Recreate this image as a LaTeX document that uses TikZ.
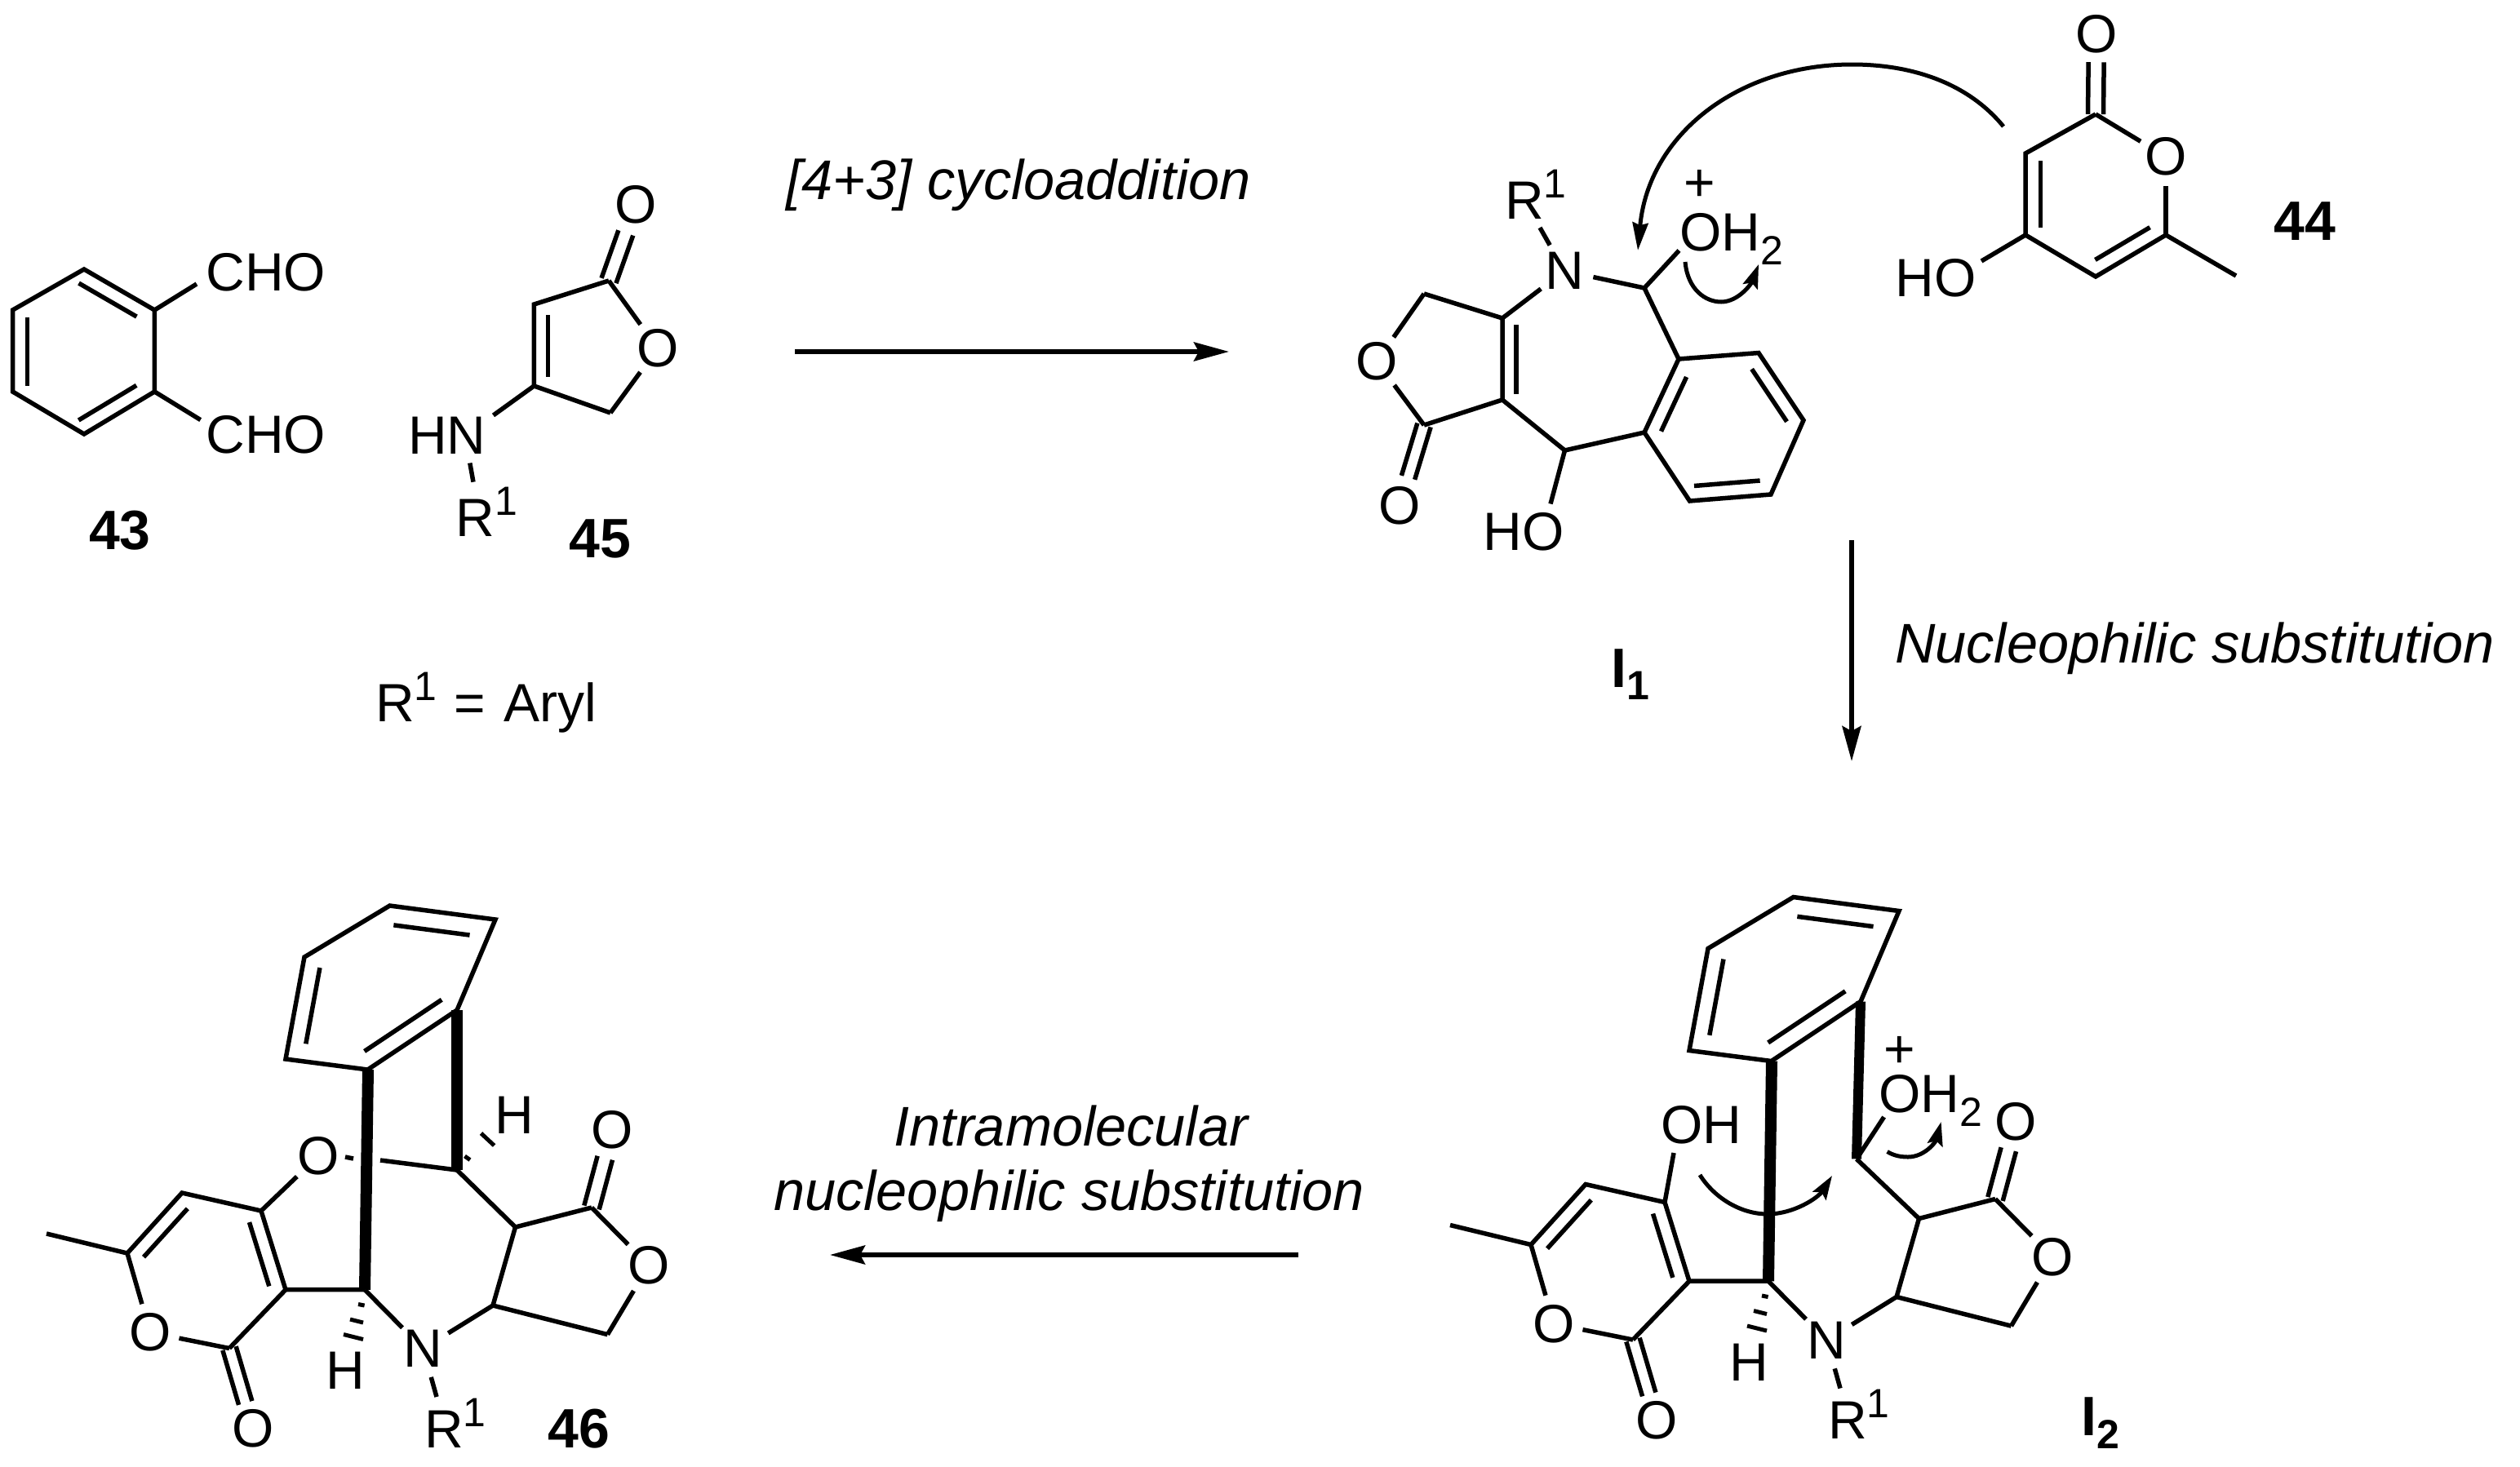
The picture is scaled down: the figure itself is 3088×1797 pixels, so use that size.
\documentclass[tikz,border=0pt]{standalone}
\usepackage{fontspec}
\setmainfont{Liberation Sans}
\usetikzlibrary{calc,arrows.meta}
\newcommand{\supone}{\raisebox{26pt}{\fontsize{50}{50}\selectfont 1}}
\newcommand{\subtwo}{\raisebox{-17pt}{\fontsize{50}{50}\selectfont 2}}
\newcommand{\innerbond}[5]{\draw[bond] ($(#1)!#3!(#2)!#5!90:(#2)$) -- ($(#1)!#4!(#2)!#5!-90:(#1)$);}
\newcommand{\doublebond}[4]{\innerbond{#1}{#2}{0}{#3}{#4}\innerbond{#1}{#2}{0}{#3}{-#4}}
\tikzset{
  bond/.style={line width=5.5pt,line join=miter,miter limit=6},
  boldbond/.style={line width=14pt},
  lab/.style={inner sep=0pt,font=\fontsize{66}{70}\selectfont},
  atom/.style={lab,circle,minimum size=72pt},
  basew/.style={lab,anchor=base west},
  num/.style={inner sep=0pt,font=\fontsize{68}{72}\selectfont\bfseries},
  numw/.style={num,anchor=base west},
  captext/.style={inner sep=0pt,anchor=base,font=\fontsize{68.5}{72}\selectfont\itshape},
  rxn/.style={line width=5.5pt,-{Stealth[length=43pt,width=23pt,inset=6pt]}},
  curly/.style={line width=5pt,-{Stealth[length=29pt,width=19pt,inset=5pt]}},
}
% shared framework of the bridged products 46 and I2
\newcommand{\framework}[2]{%
  \coordinate (a) at (477.6,1110); \coordinate (b) at (607,1127); \coordinate (c) at (560,1238);
  \coordinate (d) at (450.6,1311); \coordinate (e) at (350,1298); \coordinate (f) at (373,1173);
  \coordinate (g) at (447,1580.7); \coordinate (h) at (350,1580.7); \coordinate (i) at (320,1484);
  \coordinate (j) at (223,1462); \coordinate (k) at (156,1536); \coordinate (me) at (57,1512);
  \coordinate (l) at (281,1652.5);
  \coordinate (c2) at (#1);
  \coordinate (m) at (631.5,1504); \coordinate (n) at (725,1480);
  \coordinate (p) at (744.5,1635.6); \coordinate (q) at (604,1600);
  \coordinate (nr) at (535,1712);
  \node[atom] (Opy) at (184,1633) {O};
  \node[lab] (Oco) at (310,1751) {O};
  \node[lab] (Ola) at (750.5,1385) {O};
  \node[atom] (Ori) at (795,1551) {O};
  \node[atom] (N) at (518.5,1653) {N};
  \node[lab] (Hg) at (423,1680) {H};
  \node[basew] (R) at (520,1774) {R\supone};
  \draw[bond] (a) -- (b) -- (c) -- (d) -- (e) -- (f) -- cycle;
  \innerbond{a}{b}{.06}{.78}{-23pt}
  \innerbond{f}{e}{.074}{.82}{21pt}
  \innerbond{c}{d}{.065}{.93}{-21pt}
  \draw[bond] (g) -- (h) -- (i) -- (j) -- (k) -- (me);
  \innerbond{h}{i}{.1}{.91}{18pt}
  \innerbond{j}{k}{.097}{.9}{18pt}
  \draw[bond] (k) -- (Opy);
  \draw[bond] (Opy) -- (l);
  \draw[bond] (l) -- (h);
  \doublebond{l}{Oco}{.68}{8.5pt}
  \draw[bond] (c2) -- (m) -- (n);
  \draw[bond] (n) -- (Ori);
  \draw[bond] (Ori) -- (p);
  \draw[bond] (p) -- (q) -- (m);
  \doublebond{n}{Ola}{.64}{9.5pt}
  \draw[bond] (q) -- (N);
  \draw[bond] (N) -- (g);
  \draw[bond] (N) -- (nr);
  \draw[bond,line width=5pt] (439,1598.5) -- (446.6,1600);
  \draw[bond,line width=5pt] (429,1617) -- (445,1621);
  \draw[bond,line width=5pt] (421,1635.5) -- (445,1641.5);
  \draw[boldbond] (451,1311) -- (g);
  \draw[boldbond,line width=#2] (c) -- (c2);
}
\begin{document}
\begin{tikzpicture}[x=1pt,y=-1pt]
\useasboundingbox (0,0) rectangle (3088,1797);
\fill[white] (0,0) rectangle (3088,1797);

% ---------- 43
\coordinate (A1) at (103,330); \coordinate (A2) at (189.4,380); \coordinate (A3) at (189.4,480);
\coordinate (A4) at (103,532); \coordinate (A5) at (15.5,480); \coordinate (A6) at (15.5,380);
\coordinate (A7) at (241,348); \coordinate (A8) at (245.7,514.6);
\node[lab] (cho1) at (326,334) {CHO};
\node[lab] (cho2) at (326,533) {CHO};
\node[num] (n43) at (147,650) {43};
\draw[bond] (A1) -- (A2) -- (A3) -- (A4) -- (A5) -- (A6) -- cycle;
\innerbond{A1}{A2}{.03}{.85}{-18pt}
\innerbond{A3}{A4}{.15}{.97}{-18pt}
\innerbond{A5}{A6}{.07}{.91}{-18pt}
\draw[bond] (A2) -- (A7);
\draw[bond] (A3) -- (A8);

% ---------- 45
\coordinate (B2) at (746,344); \coordinate (B3) at (654.4,373); \coordinate (B4) at (654.4,473);
\coordinate (B5) at (748,506); \coordinate (B6) at (604.5,509); \coordinate (B7) at (575.8,567.5);
\coordinate (B8) at (580,590.7);
\node[atom] (BO1) at (806,427) {O};
\node[lab] (BO2) at (779,251) {O};
\node[lab] (BHN) at (548,534) {HN};
\node[basew] (BR) at (558.5,657) {R\supone};
\node[num] (n45) at (735.5,660) {45};
\draw[bond] (B5) -- (B4) -- (B3) -- (B2);
\draw[bond] (B2) -- (BO1);
\draw[bond] (BO1) -- (B5);
\innerbond{B3}{B4}{.13}{.89}{17pt}
\doublebond{B2}{BO2}{.63}{9.5pt}
\draw[bond] (B4) -- (B6);
\draw[bond] (B7) -- (B8);

% ---------- upper reaction arrow
\node[captext] (capA) at (1248,244) {[4+3] cycloaddition};
\coordinate (ar1s) at (974,431); \coordinate (ar1e) at (1506,431);
\draw[rxn] (ar1s) -- (ar1e);

% ---------- R1 = Aryl
\node[basew] (aryl) at (460,884) {R\supone\kern21pt=\kern22pt Aryl};

% ---------- I1
\coordinate (C1) at (2057,440); \coordinate (C2) at (2155,432.5); \coordinate (C3) at (2210,515);
\coordinate (C4) at (2170,606); \coordinate (C5) at (2070.5,614); \coordinate (C6) at (2015,530);
\coordinate (C7) at (2015,353); \coordinate (C8) at (1917.5,552); \coordinate (C9) at (1841,490);
\coordinate (C10) at (1841,390); \coordinate (C11) at (1745,360); \coordinate (C12) at (1745,521);
\coordinate (C13) at (1887,279); \coordinate (C14) at (2057.5,307); \coordinate (C15) at (1900,617.5);
\node[atom] (CN) at (1917,332) {N};
\node[atom] (CO1) at (1687,443) {O};
\node[lab] (CO2) at (1715,620) {O};
\node[lab] (CHO) at (1867,652) {HO};
\node[basew] (CR) at (1844,268.6) {R\supone};
\node[basew] (COH) at (2058,307) {OH\subtwo};
\node[lab] (Cplus) at (2083,227) {+};
\node[numw] (CI) at (1974,842) {I\raisebox{-15pt}{\fontsize{50}{50}\selectfont 1}};
\draw[bond] (C1) -- (C2) -- (C3) -- (C4) -- (C5) -- (C6) -- cycle;
\innerbond{C2}{C3}{.12}{.9}{-18pt}
\innerbond{C4}{C5}{.12}{.93}{-18pt}
\innerbond{C6}{C1}{.1}{.84}{-18pt}
\draw[bond] (C1) -- (C7);
\draw[bond] (C7) -- (CN);
\draw[bond] (CN) -- (C10);
\draw[bond] (C6) -- (C8) -- (C9) -- (C10) -- (C11);
\innerbond{C10}{C9}{.08}{.93}{17pt}
\draw[bond] (C11) -- (CO1);
\draw[bond] (CO1) -- (C12);
\draw[bond] (C12) -- (C9);
\doublebond{C12}{CO2}{.65}{8.5pt}
\draw[bond] (C8) -- (C15);
\draw[bond] (C7) -- (C14);
\draw[bond] (C13) -- (CN);
\coordinate (C16) at (2065,321); \coordinate (C17) at (2109,370); \coordinate (C18) at (2155,324);
\draw[curly] (C16) .. controls (2068,355) and (2090,370) .. (C17) .. controls (2130,370) and (2146,348) .. (C18);

% ---------- 44
\coordinate (D2) at (2568,140); \coordinate (D3) at (2482,188); \coordinate (D4) at (2482,288);
\coordinate (D5) at (2568,339); \coordinate (D6) at (2654,288); \coordinate (D7) at (2740,338);
\coordinate (D8) at (2428,320);
\node[atom] (DO1) at (2654,192) {O};
\node[lab] (DO2) at (2569,42) {O};
\node[lab] (DHO) at (2372,341) {HO};
\node[num] (n44) at (2824,271) {44};
\draw[bond] (D2) -- (D3) -- (D4) -- (D5) -- (D6) -- (D7);
\draw[bond] (D2) -- (DO1);
\draw[bond] (DO1) -- (D6);
\innerbond{D3}{D4}{.09}{.91}{18.5pt}
\innerbond{D5}{D6}{.1}{.88}{18pt}
\doublebond{D2}{DO2}{.65}{9.5pt}
\draw[bond] (D8) -- (D4);
\coordinate (D9) at (2455,155); \coordinate (D10) at (2269.5,79); \coordinate (D11) at (2007,307);
\draw[curly,-{Stealth[length=34pt,width=19pt,inset=3pt]}] (D9) .. controls (2410,100) and (2340,79) .. (D10) .. controls (2130,79) and (2020,165) .. (D11);

% ---------- right reaction arrow
\coordinate (ar2s) at (2269,662); \coordinate (ar2e) at (2269,933);
\draw[rxn] (ar2s) -- (ar2e);
\node[captext] (capB) at (2689.5,812.7) {Nucleophilic substitution};

% ---------- lower reaction arrow
\node[captext] (capC) at (1312,1404) {Intramolecular};
\node[captext] (capD) at (1310,1483) {nucleophilic substitution};
\coordinate (ar3s) at (1591,1538); \coordinate (ar3e) at (1017,1538);
\draw[rxn] (ar3s) -- (ar3e);

% ---------- 46
\begin{scope}[name prefix=pf-]
\framework{560,1434}{14pt}
\end{scope}
\node[atom] (FO) at (390,1417) {O};
\node[lab] (FH) at (630,1366.5) {H};
\node[num] (n46) at (709.5,1751) {46};
\coordinate (F1) at (466,1422); \coordinate (F2) at (433,1420); \coordinate (F3) at (423,1418);
\draw[bond] (pf-c2) -- (F1);
\draw[bond] (F3) -- (F2);
\draw[bond] (FO) -- (pf-i);
\draw[bond,line width=5pt] (589.5,1389) -- (605.6,1404);
\draw[bond,line width=5pt] (569.5,1417) -- (576,1421.6);

% ---------- I2
\begin{scope}[shift={(1720,-10.5)},name prefix=qf-]
\framework{555,1431}{12pt}
\end{scope}
\node[lab] (GOH) at (2085,1379) {OH};
\node[basew] (GOH2) at (2302,1363.5) {OH\subtwo};
\node[lab] (Gplus) at (2328,1289) {+};
\node[numw] (GI) at (2550,1759) {I\raisebox{-16pt}{\fontsize{50}{50}\selectfont 2}};
\coordinate (G1) at (2051,1413); \coordinate (G2) at (2308.6,1369);
\draw[bond] (qf-i) -- (G1);
\draw[bond] (qf-c2) -- (G2);
\coordinate (G3) at (2083,1440); \coordinate (G4) at (2166,1488); \coordinate (G5) at (2245,1441);
\draw[curly] (G3) .. controls (2102,1470) and (2135,1488) .. (G4) .. controls (2198,1488) and (2228,1468) .. (G5);
\coordinate (G6) at (2312.6,1411.5); \coordinate (G7) at (2338,1418); \coordinate (G8) at (2378.6,1375);
\draw[curly] (G6) .. controls (2320,1416) and (2328,1418) .. (G7) .. controls (2358,1418) and (2372,1400) .. (G8);
\end{tikzpicture}
\end{document}
